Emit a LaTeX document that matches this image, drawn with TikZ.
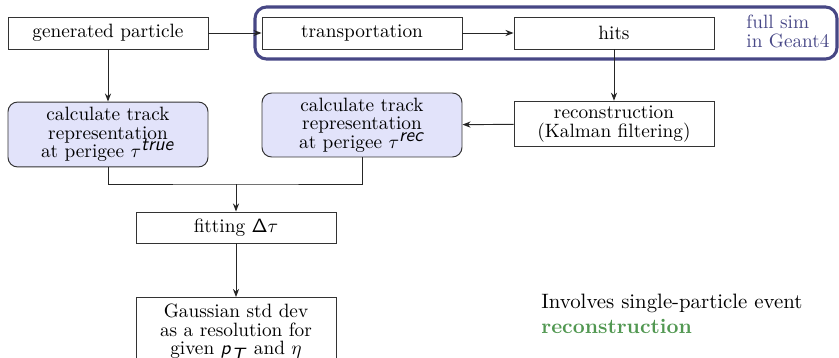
\documentclass[tikz,border=0pt]{standalone}
\usetikzlibrary{arrows.meta,positioning}
\definecolor{boxfill}{RGB}{226,227,250}
\definecolor{simblue}{RGB}{71,71,133}
\definecolor{simtext}{RGB}{72,72,135}
\definecolor{recogreen}{RGB}{82,152,82}
\newcommand{\tightfont}{\fontsize{10}{9.6}\selectfont\lineskiplimit=-20pt\relax}
\tikzset{
  px/.style={x=0.519pt,y=-0.519pt},
  boxtext/.style={font=\tightfont, align=center},
  plainbox/.style={draw=black!80, line width=0.5pt, rectangle, minimum width=103.8pt, inner sep=2.5pt, boxtext},
  calcbox/.style={plainbox, fill=boxfill, rounded corners=5pt},
  arr/.style={draw=black!85, line width=0.5pt, -{Stealth[length=4.2pt,width=3.2pt]}},
  conn/.style={draw=black!85, line width=0.5pt},
}
\newcommand{\sfit}[1]{\textsf{\textit{#1}}}
\begin{document}
\begin{tikzpicture}[px]
\useasboundingbox (0,0) rectangle (839,357);
% full sim frame
\draw[simblue, line width=1.6pt, rounded corners=6pt] (255,7) rectangle (837,59);
\node[anchor=north west, inner sep=0pt, align=left, text=simtext, font=\fontsize{10}{9.9}\selectfont] (fullsim) at (746,14.6) {full sim\\in Geant4};

\node[plainbox, minimum height=16.6pt] (gen) at (108,33) {generated particle};
\node[plainbox, minimum height=16.6pt] (trans) at (362,33) {transportation};
\node[plainbox, minimum height=16.6pt] (hits) at (614,33) {hits};
\node[plainbox, minimum height=22.8pt] (reco) at (614,124) {reconstruction\\(Kalman filtering)};
\node[calcbox, minimum height=33.7pt] (true) at (108,134.5) {calculate track\\representation\\at perigee $\tau^{\sfit{true}}$};
\node[calcbox, minimum height=33.2pt] (rec) at (362,125) {calculate track\\representation\\at perigee $\tau^{\sfit{rec}}$};
\node[plainbox, minimum height=16.1pt] (fit) at (236,227.5) {fitting $\mathsf{\Delta}\tau$};
\node[plainbox, anchor=north, minimum height=36pt, inner ysep=3.5pt] (gauss) at (236,297) {Gaussian std dev\\as a resolution for\\given $\sfit{p}_{\sfit{T}}$ and $\eta$};

\node[anchor=north west, inner sep=0pt, align=left, font=\fontsize{10.8}{13}\selectfont] (note) at (541,293.5) {Involves single-particle event\\\textcolor{recogreen}{\textbf{reconstruction}}};

\coordinate (join) at (236,184);

\draw[arr] (gen) -- (trans);
\draw[arr] (trans) -- (hits);
\draw[arr] (hits) -- (reco);
\draw[arr] (reco) -- (rec);
\draw[arr] (gen) -- (true);
\draw[conn] (true.south) |- (join) -| (rec.south);
\draw[arr] (join) -- (fit);
\draw[arr] (fit) -- (gauss);
\end{tikzpicture}
\end{document}
